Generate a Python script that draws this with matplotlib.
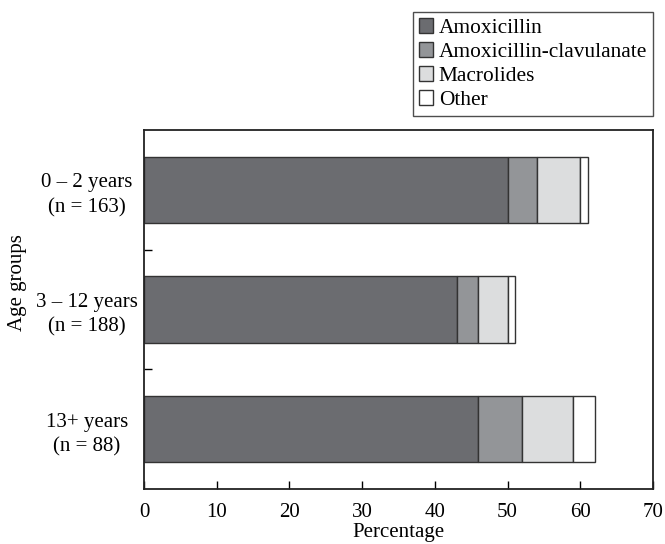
import matplotlib
matplotlib.use("Agg")
import matplotlib.pyplot as plt
import numpy as np

plt.rcParams['font.family'] = ['Liberation Serif', 'DejaVu Serif']
plt.rcParams['font.size'] = 15

groups = ["0 – 2 years\n(n = 163)", "3 – 12 years\n(n = 188)", "13+ years\n(n = 88)"]
series_names = ["Amoxicillin", "Amoxicillin-clavulanate", "Macrolides", "Other"]
amoxicillin = [50, 43, 46]
amox_clav = [4, 3, 6]
macrolides = [6, 4, 7]
other = [1, 1, 3]
x_ticks = [0, 10, 20, 30, 40, 50, 60, 70]

series = [amoxicillin, amox_clav, macrolides, other]
colors = ["#6b6c70", "#939598", "#dcddde", "#ffffff"]

fig = plt.figure(figsize=(6.65, 5.44), dpi=100)
ax = fig.add_axes([144/665, 1 - 489/544, (653 - 144)/665, (489 - 130)/544])

y = np.arange(len(groups))
left = np.zeros(len(groups))
for name, vals, c in zip(series_names, series, colors):
    ax.barh(y, vals, left=left, height=0.555, color=c, edgecolor="#333333",
            linewidth=1.0, label=name)
    left += np.array(vals)

ax.set_xlim(0, 70)
ax.set_ylim(2.5, -0.5)
ax.set_xticks(x_ticks)
ax.tick_params(axis='x', direction='in', length=6, width=1, pad=10)
ax.set_yticks(y)
ax.set_yticklabels(groups, ha='center', multialignment='center', linespacing=1.4)
ax.tick_params(axis='y', which='major', length=0, pad=57*0.72)
ax.set_yticks([0.5, 1.5], minor=True)
ax.tick_params(axis='y', which='minor', direction='in', length=6, width=1)
for s in ax.spines.values():
    s.set_linewidth(1.3)
    s.set_color("#222222")

ax.set_xlabel("Percentage", labelpad=1)
ax.set_ylabel("Age groups")
ax.yaxis.label.set_va('center')
ax.yaxis.set_label_coords((17 - 144)/509, (489 - 283)/359)

leg = fig.legend(loc='upper right', bbox_to_anchor=(653/665, 1 - 12/544),
                 frameon=True, fancybox=False, edgecolor="#222222",
                 handlelength=0.67, handleheight=0.67, handletextpad=0.25,
                 labelspacing=0.2, borderpad=0.28, borderaxespad=0,
                 fontsize=15.4)
leg.get_frame().set_linewidth(1.0)

fig.savefig("out.png", dpi=100)
